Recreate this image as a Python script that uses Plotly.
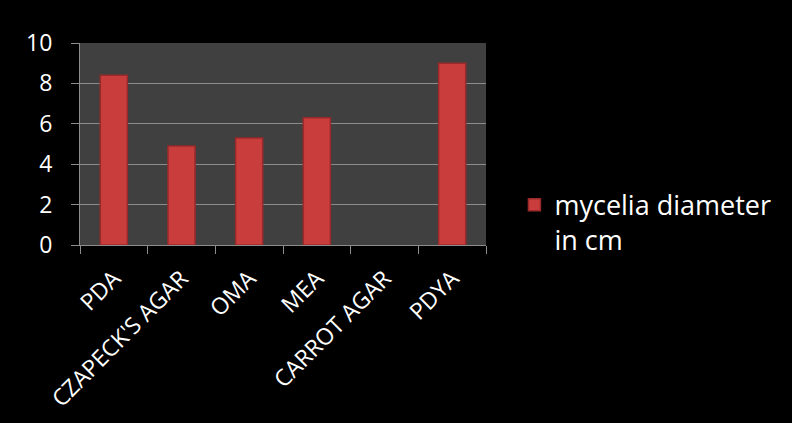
import plotly.graph_objects as go

# Culture media and colony growth (mycelial diameter, cm)
media = ["PDA", "CZAPECK'S AGAR", "OMA", "MEA", "CARROT AGAR", "PDYA"]
diameter_cm = [8.4, 4.9, 5.3, 6.3, 0, 9.0]
series_name = "mycelia diameter<br>in cm"
y_ticks = [0, 2, 4, 6, 8, 10]

FONT = "Open Sans"

# darker rim on bars that have height; an empty bar draws nothing
rim = [1.5 if v > 0 else 0 for v in diameter_cm]

fig = go.Figure()
fig.add_trace(go.Bar(
    x=media,
    y=diameter_cm,
    name=series_name,
    width=0.4,
    marker=dict(color="#c93d3d", line=dict(color="#9a2a2a", width=rim)),
    showlegend=True,
))

fig.update_layout(
    width=792,
    height=423,
    paper_bgcolor="#000000",
    plot_bgcolor="#404040",
    margin=dict(l=80, r=306, t=43, b=178, autoexpand=False),
    font=dict(family=FONT, color="#ffffff"),
    bargap=0.6,
    legend=dict(
        x=1.07, y=0.11, xanchor="left", yanchor="middle",
        valign="top",
        font=dict(family=FONT, size=27, color="#ffffff"),
        bgcolor="rgba(0,0,0,0)",
    ),
    xaxis=dict(
        type="category",
        automargin=False,
        tickangle=-45,
        tickfont=dict(family=FONT, size=23, color="#ffffff"),
        showgrid=False,
        showline=True, linecolor="#8c8c8c", linewidth=1,
        ticks="outside", tickson="boundaries", ticklen=8, tickcolor="#8c8c8c",
        zeroline=False,
        ticklabelstandoff=10,
    ),
    yaxis=dict(
        range=[0, 10],
        automargin=False,
        tickvals=y_ticks,
        tickfont=dict(family=FONT, size=23, color="#ffffff"),
        showgrid=True, gridcolor="#8c8c8c", gridwidth=1,
        showline=True, linecolor="#8c8c8c", linewidth=1,
        ticks="outside", ticklen=8, tickcolor="#8c8c8c",
        zeroline=False,
        ticklabelstandoff=14,
    ),
)

fig.write_html("out.html")
